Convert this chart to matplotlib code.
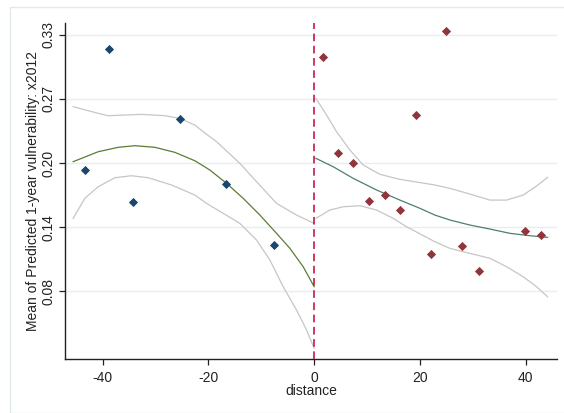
import matplotlib
matplotlib.use("Agg")
import matplotlib.pyplot as plt
from matplotlib.patches import Rectangle

plt.rcParams['font.family'] = ['Liberation Sans', 'DejaVu Sans']
plt.rcParams['axes.unicode_minus'] = False

# Bin means (left / right of cutoff)
left_x = [-43.3, -38.8, -34.3, -25.3, -16.6, -7.6]
left_y = [0.1982, 0.3164, 0.1670, 0.2482, 0.1845, 0.1254]
right_x = [1.6, 4.5, 7.4, 10.4, 13.4, 16.2, 19.2, 22.1, 25.0, 28.0, 31.1, 39.9, 42.8]
right_y = [0.3082, 0.2145, 0.2054, 0.1684, 0.1742, 0.1590, 0.2515, 0.1161, 0.3337,
           0.1243, 0.1002, 0.1391, 0.1347]

# Left fit and CI
lfit_x = [-45.56, -40.83, -37.05, -33.89, -30.11, -26.33, -22.55, -19.72, -16.56,
          -13.42, -10.26, -7.11, -4.59, -2.08, 0.0]
lfit_y = [0.2063, 0.2160, 0.2203, 0.2219, 0.2203, 0.2154, 0.2072, 0.1982, 0.1852,
          0.1706, 0.1543, 0.1365, 0.1219, 0.1040, 0.0845]
lup_x = [-45.56, -40.83, -38.94, -32.63, -28.22, -25.39, -22.55, -20.98, -18.45,
         -14.05, -10.89, -7.11, -3.33, 0.0]
lup_y = [0.2599, 0.2534, 0.2511, 0.2524, 0.2511, 0.2485, 0.2420, 0.2355, 0.2258,
         0.2047, 0.1868, 0.1657, 0.1543, 0.1462]
llo_x = [-45.56, -43.35, -40.83, -37.67, -34.52, -31.38, -26.96, -22.55, -20.34,
         -17.20, -14.05, -10.89, -8.37, -5.86, -3.33, -1.44, 0.0]
llo_y = [0.1511, 0.1706, 0.1819, 0.1907, 0.1926, 0.1907, 0.1836, 0.1738, 0.1657,
         0.1560, 0.1462, 0.1300, 0.1105, 0.0845, 0.0618, 0.0423, 0.0245]

# Right fit and CI
rfit_x = [0.32, 3.59, 7.37, 11.80, 16.20, 19.98, 22.82, 25.65, 29.43, 33.21, 37.0,
          40.78, 44.12]
rfit_y = [0.2096, 0.2014, 0.1901, 0.1787, 0.1689, 0.1609, 0.1543, 0.1495, 0.1446,
          0.1407, 0.1365, 0.1342, 0.1326]
rup_x = [0.32, 2.34, 4.23, 6.75, 9.26, 12.42, 16.20, 22.82, 25.65, 29.43, 33.21,
         36.37, 39.51, 42.04, 44.12]
rup_y = [0.2680, 0.2518, 0.2355, 0.2177, 0.2031, 0.1940, 0.1891, 0.1836, 0.1803,
         0.1748, 0.1689, 0.1689, 0.1738, 0.1826, 0.1911]
rlo_x = [0.32, 2.97, 5.48, 8.64, 11.80, 14.93, 17.47, 22.82, 25.65, 29.43, 33.21,
         36.37, 39.51, 42.04, 44.12]
rlo_y = [0.1511, 0.1592, 0.1624, 0.1634, 0.1592, 0.1511, 0.1429, 0.1283, 0.1219,
         0.1170, 0.1122, 0.1040, 0.0942, 0.0845, 0.0747]

x_ticks = [-40, -20, 0, 20, 40]
y_ticks = [0.08, 0.1425, 0.205, 0.2675, 0.33]
y_ticklabels = ['0.08', '0.14', '0.20', '0.27', '0.33']

fig = plt.figure(figsize=(5.64, 4.13), dpi=100)
fig.patches.append(Rectangle((10 / 564, 0.5 / 413), 2, (406 - 0.5) / 413,
                             transform=fig.transFigure, fill=False,
                             edgecolor='#e1eaec', linewidth=1.0, zorder=0))
ax = fig.add_axes([65 / 564, 54 / 413, 492 / 564, 336 / 413])
ax.set_xlim(-47.1, 45.9)
ax.set_ylim(0.0141, 0.3414)

for t in y_ticks:
    ax.axhline(t, color='#e6eff0', linewidth=1.0, zorder=1)

ci_col = '#c6c6c6'
ax.plot(lup_x, lup_y, color=ci_col, lw=0.9, zorder=2)
ax.plot(llo_x, llo_y, color=ci_col, lw=0.9, zorder=2)
ax.plot(rup_x, rup_y, color=ci_col, lw=0.9, zorder=2)
ax.plot(rlo_x, rlo_y, color=ci_col, lw=0.9, zorder=2)
ax.plot(lfit_x, lfit_y, color='#5a7d35', lw=0.9, zorder=3)
ax.plot(rfit_x, rfit_y, color='#4d7f6e', lw=0.9, zorder=3)

ax.scatter(left_x, left_y, marker='D', s=22, color='#1a476f', zorder=4, linewidths=0)
ax.scatter(right_x, right_y, marker='D', s=22, color='#90353b', zorder=4, linewidths=0)

ax.axvline(0, color='#c10534', lw=1.1, linestyle=(0, (5, 3)), zorder=5)

for s in ['top', 'right']:
    ax.spines[s].set_visible(False)
for s in ['left', 'bottom']:
    ax.spines[s].set_color('#222222')
    ax.spines[s].set_linewidth(1.0)

ax.set_xticks(x_ticks)
ax.set_yticks(y_ticks)
ax.set_yticklabels(y_ticklabels, rotation=90, va='center')
ax.tick_params(axis='both', length=4, width=0.9, color='#222222', labelsize=10,
               labelcolor='#222222')
ax.tick_params(axis='x', pad=5)
ax.tick_params(axis='y', pad=3)
ax.set_xlabel('distance', fontsize=10, color='#222222', labelpad=-1)
ax.set_ylabel('Mean of Predicted 1-year vulnerability: x2012', fontsize=10,
              color='#222222', labelpad=1)

fig.savefig('out.png', dpi=100)
